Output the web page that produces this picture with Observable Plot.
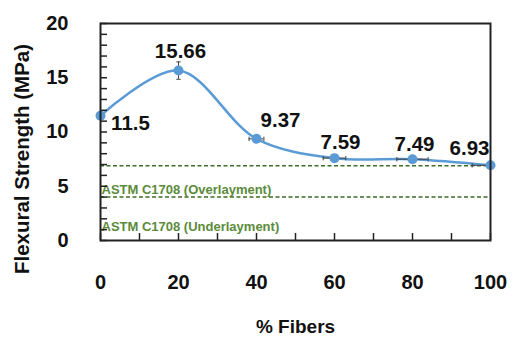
<!DOCTYPE html>
<html><head><meta charset="utf-8">
<script src="https://cdn.jsdelivr.net/npm/d3@7"></script>
<script src="https://cdn.jsdelivr.net/npm/@observablehq/plot@0.6"></script>
<style>
html,body{margin:0;padding:0;background:#fff;}
svg{font-family:"Liberation Sans",Arial,sans-serif;}
</style>
</head><body><div id="chart"></div>
<script>
// ---- data ----
const fibers = [0, 20, 40, 60, 80, 100];
const strength = [11.5, 15.66, 9.37, 7.59, 7.49, 6.93];
const strengthErr = [0, 0.8, 0, 0, 0, 0];
const fiberErr = [0, 0, 1.9, 2.9, 4.0, 4.7];
const valueLabels = ["11.5", "15.66", "9.37", "7.59", "7.49", "6.93"];
const standardValues = [6.9, 4.0];
const standardNames = ["ASTM C1708 (Overlayment)", "ASTM C1708 (Underlayment)"];
const xTicks = [0, 20, 40, 60, 80, 100];
const yTicks = [0, 5, 10, 15, 20];
const xTitle = "% Fibers";
const yTitle = "Flexural Strength (MPa)";

// ---- layout (label offsets in px) ----
const labelDx = [30, 2, 24, 6, 2, -21];
const labelDy = [8, -19, -18, -16, -15, -17];

const data = fibers.map((f, i) => ({f, s: strength[i], se: strengthErr[i], fe: fiberErr[i], label: valueLabels[i], i}));

const hcap = {draw(ctx, size) { const r = Math.sqrt(size / Math.PI); ctx.moveTo(-r, 0); ctx.lineTo(r, 0); }};
const vcap = {draw(ctx, size) { const r = Math.sqrt(size / Math.PI); ctx.moveTo(0, -r); ctx.lineTo(0, r); }};

const blue = "#5b9bd5";
const errC = "#404040";
const green = "#3f6e26";
const greenText = "#5b8b3b";

const vErr = data.filter(d => d.se > 0);
const hErr = data.filter(d => d.fe > 0);

const chart = Plot.plot({
  width: 515, height: 342,
  marginLeft: 100, marginRight: 25, marginTop: 23, marginBottom: 102,
  style: {fontFamily: "'Liberation Sans', Arial, sans-serif", background: "white", overflow: "visible"},
  x: {domain: [0, 100]},
  y: {domain: [0, 20]},
  marks: [
    Plot.ruleY(standardValues, {y: d => d, stroke: green, strokeWidth: 1.5, strokeDasharray: "4,2.5"}),
    Plot.text([0], {x: 0, y: () => standardValues[0], text: () => standardNames[0], dy: 24, dx: 1, textAnchor: "start", fill: greenText, fontSize: 13, fontWeight: "bold"}),
    Plot.text([0], {x: 0, y: () => standardValues[1], text: () => standardNames[1], dy: 30, dx: 1, textAnchor: "start", fill: greenText, fontSize: 13, fontWeight: "bold"}),
    Plot.line(data, {x: "f", y: "s", curve: "catmull-rom", stroke: blue, strokeWidth: 2.5}),
    Plot.ruleX(vErr, {x: "f", y1: d => d.s - d.se, y2: d => d.s + d.se, stroke: errC, strokeWidth: 1}),
    Plot.dot(vErr, {x: "f", y: d => d.s - d.se, symbol: hcap, r: 2.2, stroke: errC, strokeWidth: 1}),
    Plot.dot(vErr, {x: "f", y: d => d.s + d.se, symbol: hcap, r: 2.2, stroke: errC, strokeWidth: 1}),
    Plot.ruleY(hErr, {y: "s", x1: d => d.f - d.fe, x2: d => Math.min(100, d.f + d.fe), stroke: errC, strokeWidth: 1}),
    Plot.dot(hErr, {x: d => d.f - d.fe, y: "s", symbol: vcap, r: 2.2, stroke: errC, strokeWidth: 1}),
    Plot.dot(hErr.filter(d => d.f + d.fe <= 100), {x: d => d.f + d.fe, y: "s", symbol: vcap, r: 2.2, stroke: errC, strokeWidth: 1}),
    Plot.dot(data, {x: "f", y: "s", r: 5, fill: blue}),
    ...data.map((d, i) => Plot.text([d], {x: "f", y: "s", text: "label", dx: labelDx[i], dy: labelDy[i], fontSize: 20.5, fontWeight: "bold", fill: "#111"})),
    Plot.axisY({ticks: d3.range(0, 21, 1), tickSize: 7, dx: 7, text: null, label: null, stroke: "#222", strokeWidth: 1.5}),
    Plot.axisX({ticks: d3.range(0, 101, 10), tickSize: 7, dy: -7, text: null, label: null, stroke: "#222", strokeWidth: 1.5}),
    Plot.axisY({ticks: yTicks, tickSize: 0, tickPadding: 32, label: null, fontSize: 20, fontWeight: "bold", fill: "#111"}),
    Plot.axisX({ticks: xTicks, tickSize: 0, tickPadding: 34, label: null, fontSize: 20, fontWeight: "bold", fill: "#111"}),
    Plot.frame({stroke: "#222", strokeWidth: 2}),
    Plot.text([xTitle], {frameAnchor: "bottom", dy: 92, text: d => d, fontSize: 19, fontWeight: "bold", fill: "#111"}),
    Plot.text([yTitle], {frameAnchor: "left", textAnchor: "middle", rotate: -90, dx: -78, dy: 27, text: d => d, fontSize: 20.5, fontWeight: "bold", fill: "#111"})
  ]
});
document.getElementById("chart").append(chart);
</script>
</body></html>
